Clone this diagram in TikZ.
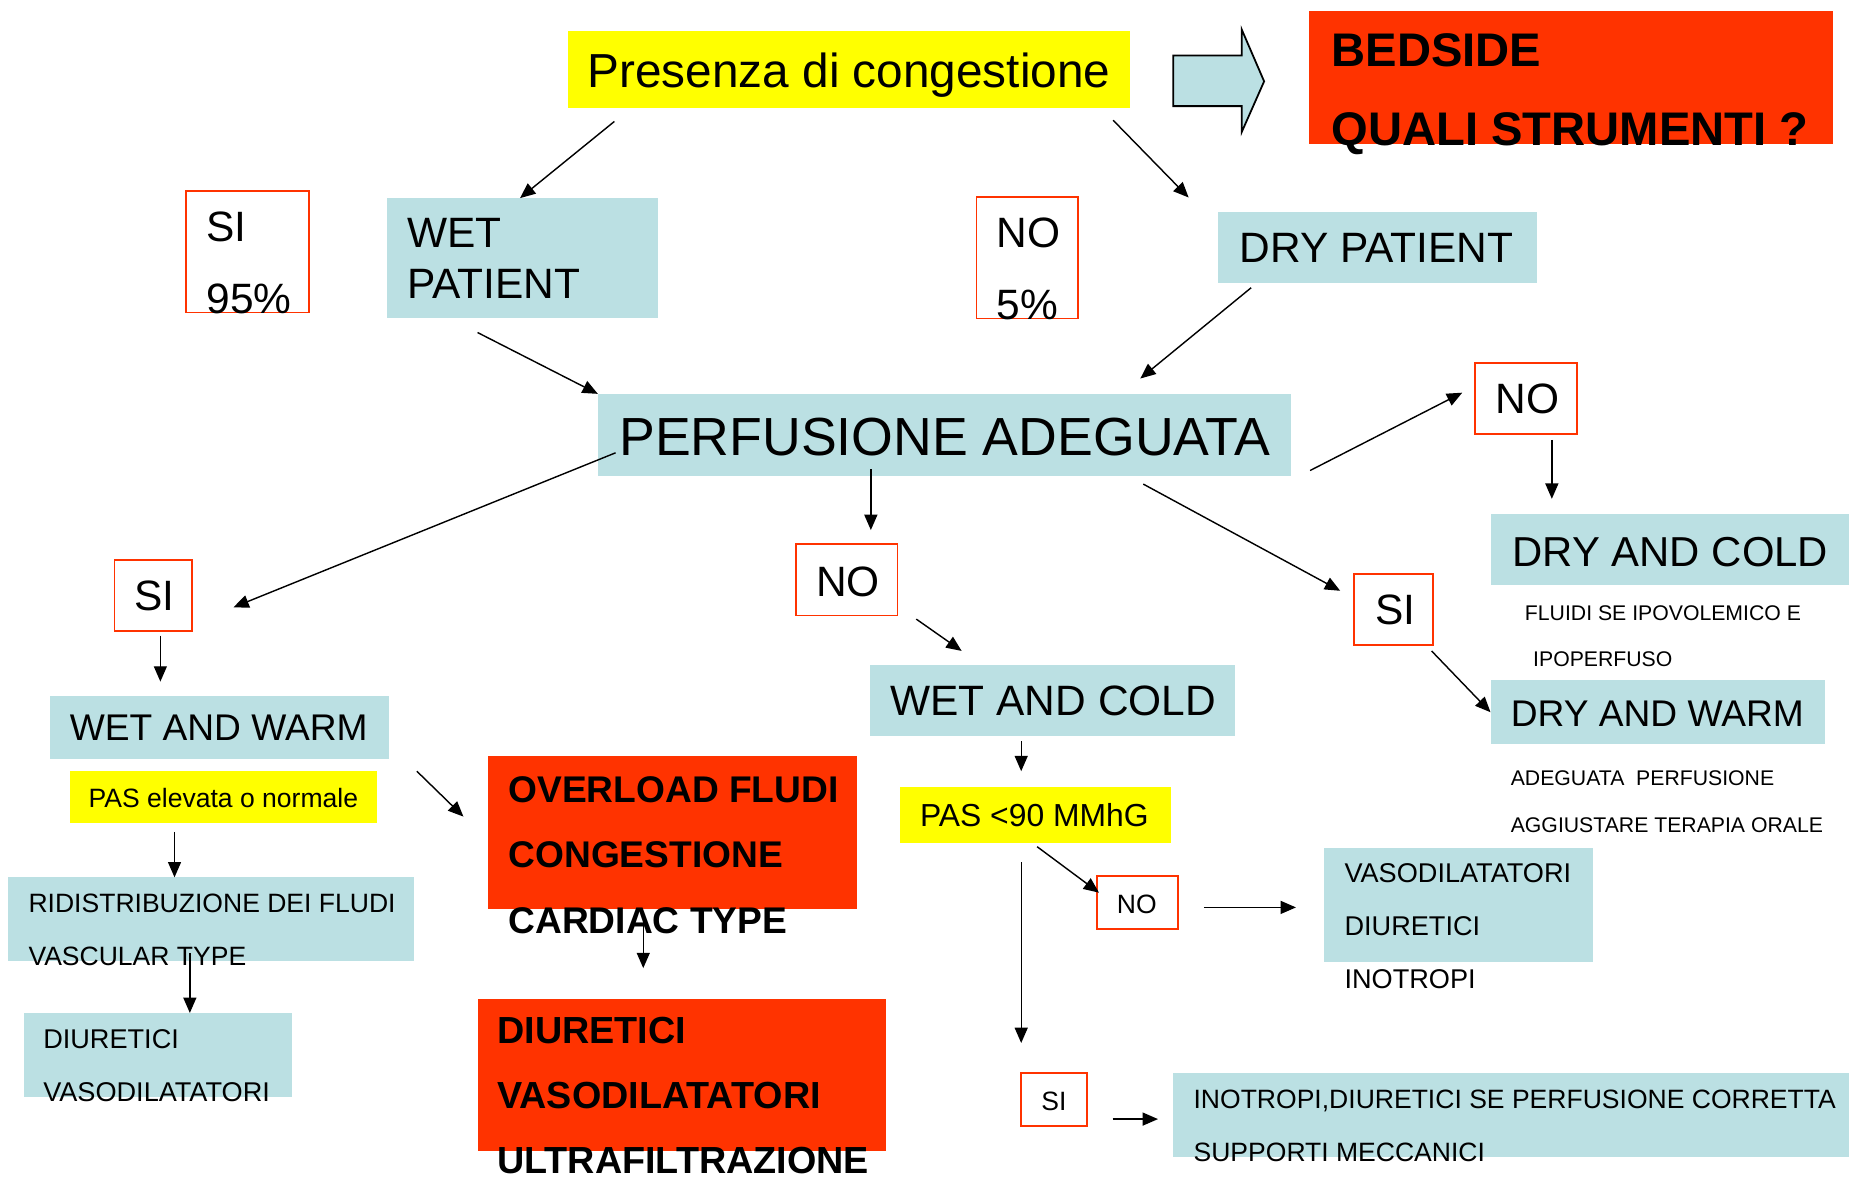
\documentclass[tikz,border=0pt]{standalone}
\usepackage{fontspec}
\setmainfont{Liberation Sans}
\usetikzlibrary{arrows.meta}
\definecolor{pale}{RGB}{187,224,227}
\definecolor{flame}{RGB}{255,51,0}
\definecolor{lemon}{RGB}{255,255,0}
\newcommand{\sz}[2]{\fontsize{#1}{#2}\selectfont}
\tikzset{%
    panel/.style 2 args={%
        shape=rectangle, anchor=north west, inner sep=0pt, outer sep=0pt,
        minimum width=#1, minimum height=#2
    },
    chip/.style 2 args={%
        panel={#1}{#2}, draw=flame, line width=1.5pt
    },
    txt/.style={%
        anchor=base west, inner sep=0pt, align=left
    },
    arr/.style={%
        -{Triangle[length=13pt, width=11pt]}, line width=1.2pt
    }
}
\begin{document}
\begin{tikzpicture}[x=1pt, y=-1pt]
    \useasboundingbox (0,0) rectangle (1568,999);

    \node[panel={476}{66}, fill=lemon] (pres) at (482,26) {};
    \node[panel={444}{113}, fill=flame] (bed) at (1110,9) {};
    \node[chip={104}{103}] (sia) at (158,162) {};
    \node[panel={230}{102}, fill=pale] (wet) at (328,168) {};
    \node[chip={86}{103}] (noa) at (828,167) {};
    \node[panel={270}{60}, fill=pale] (dry) at (1033,180) {};
    \node[panel={588}{70}, fill=pale] (perf) at (507,334) {};
    \node[chip={86}{60}] (nob) at (1251,308) {};
    \node[panel={304}{60}, fill=pale] (dc) at (1264,436) {};
    \node[chip={67}{60}] (sib) at (1148,487) {};
    \node[panel={284}{54}, fill=pale] (dw) at (1264,577) {};
    \node[chip={66}{60}] (sic) at (97,475) {};
    \node[chip={86}{61}] (noc) at (675,461) {};
    \node[panel={288}{54}, fill=pale] (ww) at (42,590) {};
    \node[panel={261}{44}, fill=lemon] (pasa) at (59,654) {};
    \node[panel={344}{71}, fill=pale] (rid) at (7,744) {};
    \node[panel={228}{71}, fill=pale] (diua) at (20,859) {};
    \node[panel={313}{130}, fill=flame] (over) at (414,641) {};
    \node[panel={346}{129}, fill=flame] (diub) at (405,847) {};
    \node[panel={309}{60}, fill=pale] (wc) at (738,564) {};
    \node[panel={230}{48}, fill=lemon] (pasb) at (763,667) {};
    \node[chip={69}{45}] (nod) at (930,743) {};
    \node[panel={228}{97}, fill=pale] (vaso) at (1123,719) {};
    \node[chip={56}{45}] (sid) at (866,910) {};
    \node[panel={573}{71}, fill=pale] (ino) at (995,910) {};

    % block arrow to the bedside box
    \draw[line width=1.5pt, fill=pale] (995,47) -- (1053,47) -- (1053,25) -- (1072,69)
        -- (1053,112) -- (1053,90) -- (995,90) -- cycle;

    % multi-line texts sit on the baseline of their last line
    \node[txt, font=\sz{40.5}{48}] (presT) at (498,74) {Presenza di congestione};
    \node[txt, font=\bfseries\sz{40}{66.5}] (bedT) at (1129,123) {BEDSIDE\\QUALI STRUMENTI ?};
    \node[txt, font=\sz{36}{61}] (siaT) at (175,266) {SI\\95\%};
    \node[txt, font=\sz{36}{43}] (wetT) at (345,253) {WET\\PATIENT};
    \node[txt, font=\sz{36}{61}] (noaT) at (845,271) {NO\\5\%};
    \node[txt, font=\sz{36}{43}] (dryT) at (1051,222.5) {DRY PATIENT};
    \node[txt, font=\sz{45.5}{53}] (perfT) at (525,386) {PERFUSIONE ADEGUATA};
    \node[txt, font=\sz{36}{43}] (nobT) at (1268,351) {NO};
    \node[txt, font=\sz{35.5}{43}] (dcT) at (1282.5,480) {DRY AND COLD};
    \node[txt, font=\sz{18}{39.6}] (dcN) at (1293,565.6) {FLUIDI SE IPOVOLEMICO E\\\hspace*{7pt}IPOPERFUSO};
    \node[txt, font=\sz{36}{43}] (sibT) at (1166,530) {SI};
    \node[txt, font=\sz{31.5}{38}] (dwT) at (1281,616) {DRY AND WARM};
    \node[txt, font=\sz{18}{39.7}] (dwN) at (1281,705.7) {ADEGUATA\ \ PERFUSIONE\\AGGIUSTARE TERAPIA ORALE};
    \node[txt, font=\sz{36}{43}] (sicT) at (114,517.5) {SI};
    \node[txt, font=\sz{36}{43}] (nocT) at (692,505.5) {NO};
    \node[txt, font=\sz{31.5}{38}] (wwT) at (59,628) {WET AND WARM};
    \node[txt, font=\sz{22.5}{27}] (pasaT) at (75,685) {PAS elevata o normale};
    \node[txt, font=\sz{22.5}{44.5}] (ridT) at (24,818.5) {RIDISTRIBUZIONE DEI FLUDI\\VASCULAR TYPE};
    \node[txt, font=\sz{23}{45.5}] (diuaT) at (36.5,934.5) {DIURETICI\\VASODILATATORI};
    \node[txt, font=\bfseries\sz{31.5}{55.5}] (overT) at (431,791.5) {OVERLOAD FLUDI\\CONGESTIONE\\CARDIAC TYPE};
    \node[txt, font=\bfseries\sz{32}{55.5}] (diubT) at (421.5,995.5) {DIURETICI\\VASODILATATORI\\ULTRAFILTRAZIONE};
    \node[txt, font=\sz{36}{43}] (wcT) at (755,606.5) {WET AND COLD};
    \node[txt, font=\sz{27}{32}] (pasbT) at (780,700.5) {PAS <90 MMhG};
    \node[txt, font=\sz{22.5}{27}] (nodT) at (947,774.5) {NO};
    \node[txt, font=\sz{23}{45}] (vasoT) at (1140,838) {VASODILATATORI\\DIURETICI\\INOTROPI};
    \node[txt, font=\sz{22.5}{27}] (sidT) at (883,941.5) {SI};
    \node[txt, font=\sz{22.5}{45}] (inoT) at (1012,985) {INOTROPI,DIURETICI SE PERFUSIONE CORRETTA\\SUPPORTI MECCANICI};

    \draw[arr] ([shift={(39,11)}]pres.south west) -- ([shift={(-2,0)}]wet.north);
    \draw[arr] ([shift={(-14,10)}]pres.south east) -- ([shift={(-25,-12.5)}]dry.north west);
    \draw[arr] ([shift={(77,12)}]wet.south west) -- (perf.north west);
    \draw[arr] ([shift={(28,4)}]dry.south west) -- ([shift={(-128,-13)}]perf.north east);
    \draw[arr] ([shift={(16,30)}]perf.east) -- ([shift={(-11,-5)}]nob.west);
    \draw[arr] ([shift={(22,5)}]nob.south) -- ([shift={(52,-13)}]dc.north west);
    \draw[arr] ([shift={(-125.5,6.5)}]perf.south east) -- ([shift={(-11.5,-16)}]sib.west);
    \draw[arr] ([shift={(-1,5)}]sib.south east) -- (dw.west);
    \draw[arr] ([shift={(15,15)}]perf.west) -- ([shift={(35,10)}]sic.east);
    \draw[arr] ([shift={(231.5,-6)}]perf.south west) -- ([shift={(20.5,-11.5)}]noc.north);
    \draw[arr] ([shift={(16,3)}]noc.south east) -- ([shift={(77.5,-12)}]wc.north west);
    \draw[arr] ([shift={(6,4)}]sic.south) -- ([shift={(94,-12)}]ww.north west);
    \draw[arr] ([shift={(23.5,10)}]ww.south east) -- ([shift={(-21,-13.5)}]over.west);
    \draw[arr] ([shift={(89,7.5)}]pasa.south west) -- ([shift={(141,0)}]rid.north west);
    \draw[arr] ([shift={(154,-7)}]rid.south west) -- ([shift={(141,0)}]diua.north west);
    \draw[arr] ([shift={(131.5,9)}]over.south west) -- ([shift={(140.5,-26)}]diub.north west);
    \draw[arr] ([shift={(128,4.5)}]wc.south west) -- ([shift={(103,-13)}]pasb.north west);
    \draw[arr] ([shift={(116.5,3)}]pasb.south west) -- ([shift={(2,14)}]nod.north west);
    \draw[arr] ([shift={(22,4)}]nod.east) -- ([shift={(-24,2)}]vaso.west);
    \draw[arr] ([shift={(103,16)}]pasb.south west) -- ([shift={(-28,-25.5)}]sid.north);
    \draw[arr] ([shift={(21.5,16.5)}]sid.east) -- ([shift={(-13,3.5)}]ino.west);
\end{tikzpicture}
\end{document}
